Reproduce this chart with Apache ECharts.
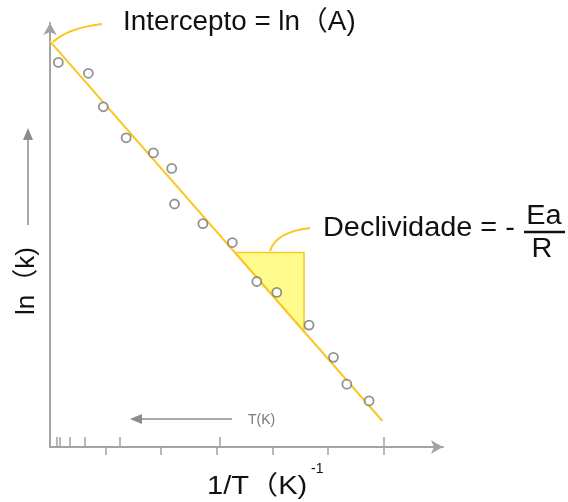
<!DOCTYPE html>
<html>
<head>
<meta charset="utf-8">
<script src="https://cdn.jsdelivr.net/npm/echarts@6/dist/echarts.min.js"></script>
<style>
  html, body { margin: 0; padding: 0; background: #fff; }
  #chart { width: 568px; height: 502px; }
</style>
</head>
<body>
<div id="chart"></div>
<script>
// 1/T axis: major ticks below the axis, T ticks above it
const invTTicks = [1, 2, 3, 4, 5, 6];
const tTicks = [0.12, 0.18, 0.35, 0.63, 1.26, 3.06, 6.0];

// measured points ln(k) vs 1/T
const pointsX = [0.15, 0.69, 0.96, 1.37, 1.86, 2.19, 2.24, 2.75, 3.28, 3.72, 4.08, 4.66, 5.10, 5.34, 5.74];
const pointsY = [9.18, 8.92, 8.12, 7.38, 7.02, 6.65, 5.80, 5.33, 4.88, 3.95, 3.69, 2.91, 2.14, 1.50, 1.10];

// fitted straight line
const fitX = [0, 5.98];
const fitY = [9.68, 0.62];

// slope triangle
const slopeX = [3.33, 4.57, 4.57];
const slopeY = [4.64, 4.64, 2.75];

const FONT = "'Liberation Sans', Arial, 'Noto Sans CJK SC', sans-serif";
const AXIS_GRAY = '#a3a3a3';
const YELLOW = '#fcc620';

const chart = echarts.init(document.getElementById('chart'));

const options = {
  backgroundColor: '#fff',
  animation: false,
  grid: { left: 50, right: 125, top: 23, bottom: 55 },
  xAxis: [
    {
      type: 'value',
      min: 0,
      max: 7.07,
      axisLine: { show: true, symbol: ['none', 'arrow'], symbolSize: [10, 12], lineStyle: { color: AXIS_GRAY, width: 2 } },
      axisTick: { show: true, length: 8, customValues: invTTicks, lineStyle: { color: AXIS_GRAY, width: 1.5 } },
      axisLabel: { show: false },
      splitLine: { show: false }
    },
    {
      type: 'value',
      min: 0,
      max: 7.07,
      position: 'bottom',
      axisLine: { show: false },
      axisTick: { show: true, inside: true, length: 10, customValues: tTicks, lineStyle: { color: AXIS_GRAY, width: 1.5 } },
      axisLabel: { show: false },
      splitLine: { show: false }
    }
  ],
  yAxis: {
    type: 'value',
    min: 0,
    max: 10.12,
    axisLine: { show: true, symbol: ['none', 'arrow'], symbolSize: [10, 12], lineStyle: { color: AXIS_GRAY, width: 2 } },
    axisTick: { show: false },
    axisLabel: { show: false },
    splitLine: { show: false }
  },
  series: [
    {
      type: 'custom',
      renderItem: (params, api) => {
        const pts = slopeX.map((x, i) => api.coord([x, slopeY[i]]));
        return {
          type: 'polygon',
          shape: { points: pts },
          style: { fill: '#fffb8c', stroke: YELLOW, lineWidth: 1.5 }
        };
      },
      data: [0],
      silent: true,
      z: 1
    },
    {
      type: 'line',
      data: fitX.map((x, i) => [x, fitY[i]]),
      symbol: 'none',
      lineStyle: { color: YELLOW, width: 2 },
      z: 2
    },
    {
      type: 'scatter',
      data: pointsX.map((x, i) => [x, pointsY[i]]),
      symbol: 'circle',
      symbolSize: 9,
      itemStyle: { color: '#fff', borderColor: '#777', borderWidth: 1.8 },
      z: 3
    }
  ],
  graphic: [
    // intercept annotation
    { type: 'bezierCurve', shape: { x1: 53, y1: 42, x2: 102, y2: 24, cpx1: 68, cpy1: 28 }, style: { stroke: YELLOW, lineWidth: 2, fill: null } },
    { type: 'text', x: 123, y: 23, scaleX: 1.03, style: { text: 'Intercepto = ln（A)', font: '27px ' + FONT, fill: '#111', verticalAlign: 'middle' } },
    // slope annotation
    { type: 'bezierCurve', shape: { x1: 270, y1: 251, x2: 310, y2: 228, cpx1: 276, cpy1: 232 }, style: { stroke: YELLOW, lineWidth: 2, fill: null } },
    { type: 'text', x: 323, y: 229, scaleX: 1.07, style: { text: 'Declividade = -', font: '27px ' + FONT, fill: '#111', verticalAlign: 'middle' } },
    { type: 'text', x: 544, y: 217, scaleX: 1.07, style: { text: 'Ea', font: '27px ' + FONT, fill: '#111', align: 'center', verticalAlign: 'middle' } },
    { type: 'line', shape: { x1: 524, y1: 232, x2: 565, y2: 232 }, style: { stroke: '#111', lineWidth: 2.5 } },
    { type: 'text', x: 542, y: 250, scaleX: 1.07, style: { text: 'R', font: '27px ' + FONT, fill: '#111', align: 'center', verticalAlign: 'middle' } },
    // axis titles
    { type: 'text', x: 207, y: 487, scaleX: 1.12, style: { text: '1/T（K)', font: '26px ' + FONT, fill: '#111', verticalAlign: 'middle' } },
    { type: 'text', x: 311, y: 469, style: { text: '-1', font: '14px ' + FONT, fill: '#111', verticalAlign: 'middle' } },
    { type: 'text', x: 27, y: 281, rotation: Math.PI / 2, style: { text: 'ln（k)', font: '26px ' + FONT, fill: '#111', align: 'center', verticalAlign: 'middle' } },
    // direction arrows
    { type: 'line', shape: { x1: 28, y1: 225, x2: 28, y2: 138 }, style: { stroke: '#8c8c8c', lineWidth: 1.5 } },
    { type: 'polygon', shape: { points: [[28, 128], [23, 140], [33, 140]] }, style: { fill: '#8c8c8c' } },
    { type: 'line', shape: { x1: 232, y1: 419, x2: 140, y2: 419 }, style: { stroke: '#8c8c8c', lineWidth: 1.5 } },
    { type: 'polygon', shape: { points: [[130, 419], [142, 414], [142, 424]] }, style: { fill: '#8c8c8c' } },
    { type: 'text', x: 248, y: 420, style: { text: 'T(K)', font: '14px ' + FONT, fill: '#777', verticalAlign: 'middle' } }
  ]
};

chart.setOption(options);
</script>
</body>
</html>
